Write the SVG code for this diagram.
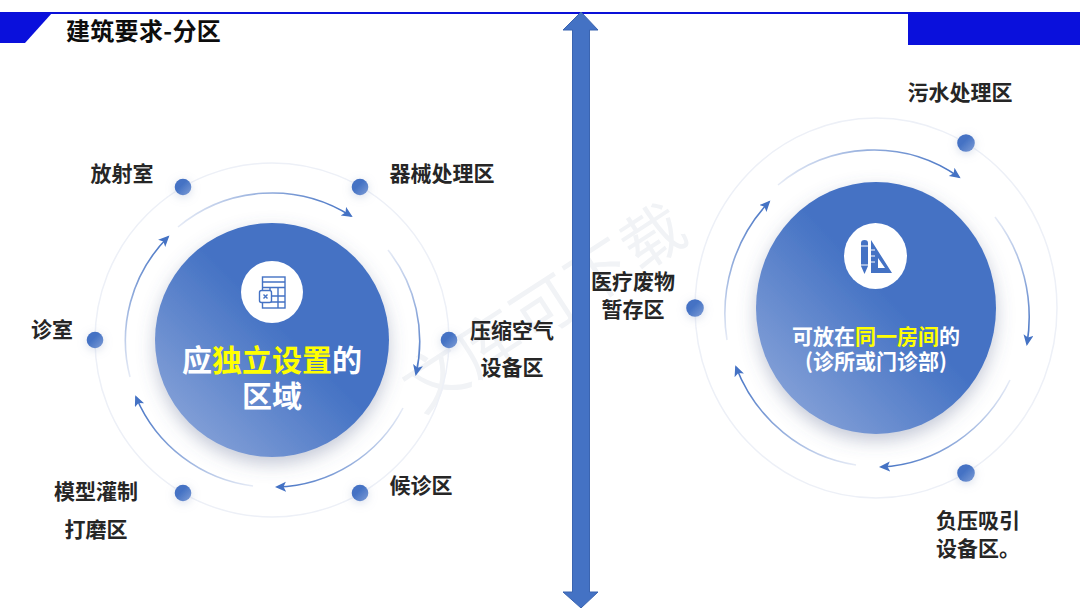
<svg xmlns="http://www.w3.org/2000/svg" width="1080" height="608" viewBox="0 0 1080 608">
<style>
text{font-family:"Noto Sans CJK SC","Liberation Sans",sans-serif;font-weight:700}
.lb{font-size:21px;fill:#262626;text-anchor:middle}
.ring{fill:none;stroke:#edf0f7;stroke-width:1.5}
.arc{fill:none;stroke-width:1.6}
.dot{filter:url(#ds)}
.ic{fill:none;stroke:#4472c4;stroke-width:1.4}
.w{fill:#fff;text-anchor:middle}
.y{fill:#ffff00}
.wm{font-size:62px;fill:#f1f3f6;text-anchor:middle;font-weight:400}
</style>
<defs>
<linearGradient id="disc" x1="0.15" y1="0.95" x2="0.6" y2="0.5"><stop offset="0" stop-color="#86a2d8"/><stop offset="1" stop-color="#4472c4"/></linearGradient>
<linearGradient id="dotg" x1="0" y1="0" x2="1" y2="1"><stop offset="0.4" stop-color="#4472c4"/><stop offset="1" stop-color="#7f9dd6"/></linearGradient>
<filter id="ds" x="-100%" y="-100%" width="300%" height="300%"><feDropShadow dx="0" dy="2" stdDeviation="5" flood-color="#8a9cc4" flood-opacity="0.35"/></filter>
<filter id="dsb" x="-30%" y="-30%" width="160%" height="160%"><feDropShadow dx="0" dy="7" stdDeviation="9" flood-color="#55648c" flood-opacity="0.35"/></filter>
<marker id="ah" markerUnits="userSpaceOnUse" markerWidth="12" markerHeight="12" refX="9" refY="5" orient="auto"><path d="M0 0L11 5L0 10L2.5 5Z" fill="#4472c4"/></marker>
<linearGradient id="a1" gradientUnits="userSpaceOnUse" x1="178" y1="227" x2="351" y2="216"><stop offset="0" stop-color="#e6ebf6"/><stop offset="1" stop-color="#4472c4"/></linearGradient>
<linearGradient id="a2" gradientUnits="userSpaceOnUse" x1="388" y1="250" x2="416" y2="374"><stop offset="0" stop-color="#e6ebf6"/><stop offset="1" stop-color="#4472c4"/></linearGradient>
<linearGradient id="a3" gradientUnits="userSpaceOnUse" x1="403" y1="408" x2="277" y2="487"><stop offset="0" stop-color="#e6ebf6"/><stop offset="1" stop-color="#4472c4"/></linearGradient>
<linearGradient id="a4" gradientUnits="userSpaceOnUse" x1="253" y1="486" x2="136" y2="397"><stop offset="0" stop-color="#e6ebf6"/><stop offset="1" stop-color="#4472c4"/></linearGradient>
<linearGradient id="a5" gradientUnits="userSpaceOnUse" x1="130" y1="377" x2="168" y2="237"><stop offset="0" stop-color="#e6ebf6"/><stop offset="1" stop-color="#4472c4"/></linearGradient>
<linearGradient id="b1" gradientUnits="userSpaceOnUse" x1="778" y1="185" x2="959" y2="177"><stop offset="0" stop-color="#e6ebf6"/><stop offset="1" stop-color="#4472c4"/></linearGradient>
<linearGradient id="b2" gradientUnits="userSpaceOnUse" x1="995" y1="217" x2="1027" y2="344"><stop offset="0" stop-color="#e6ebf6"/><stop offset="1" stop-color="#4472c4"/></linearGradient>
<linearGradient id="b3" gradientUnits="userSpaceOnUse" x1="1010" y1="380" x2="881" y2="467"><stop offset="0" stop-color="#e6ebf6"/><stop offset="1" stop-color="#4472c4"/></linearGradient>
<linearGradient id="b4" gradientUnits="userSpaceOnUse" x1="856" y1="465" x2="736" y2="367"><stop offset="0" stop-color="#e6ebf6"/><stop offset="1" stop-color="#4472c4"/></linearGradient>
<linearGradient id="b5" gradientUnits="userSpaceOnUse" x1="727" y1="340" x2="769" y2="202"><stop offset="0" stop-color="#e6ebf6"/><stop offset="1" stop-color="#4472c4"/></linearGradient>
</defs>
<rect width="1080" height="608" fill="#fff"/>
<g id="watermark" transform="rotate(-33 545 310)">
<text class="wm" x="416" y="330">文</text>
<text class="wm" x="480" y="330">库</text>
<text class="wm" x="545" y="330">可</text>
<text class="wm" x="610" y="330">下</text>
<text class="wm" x="675" y="330">载</text>
</g>
<g id="header">
<rect x="0" y="12" width="1080" height="2" fill="#0a10d8"/>
<path d="M0 13H52L25 43H0Z" fill="#0a10dc"/>
<rect x="908" y="12" width="172" height="33" fill="#0a10dc"/>
<text x="66" y="40" font-size="24" letter-spacing="0.300" fill="#0d0d0d">建筑要求-分区</text>
</g>
<g id="divider"><path d="M581 12L598 30H589.500V592H598L581 608L563 592H572.500V30H563Z" fill="#4472c4" stroke="#3a64b0" stroke-width="1"/></g>
<g id="rings">
<circle class="ring" cx="272" cy="340" r="177"/>
<ellipse class="ring" cx="876" cy="308" rx="181" ry="190"/>
</g>
<g id="connectors">
<path class="arc" stroke="url(#a1)" marker-end="url(#ah)" d="M178 227A147 147 0 0 1 351 216"/>
<path class="arc" stroke="url(#a2)" marker-end="url(#ah)" d="M388 250A147 147 0 0 1 416 374"/>
<path class="arc" stroke="url(#a3)" marker-end="url(#ah)" d="M403 408A147 147 0 0 1 277 487"/>
<path class="arc" stroke="url(#a4)" marker-end="url(#ah)" d="M253 486A147 147 0 0 1 136 397"/>
<path class="arc" stroke="url(#a5)" marker-end="url(#ah)" d="M130 377A147 147 0 0 1 168 237"/>
<path class="arc" stroke="url(#b1)" marker-end="url(#ah)" d="M778 185A153 159 0 0 1 959 177"/>
<path class="arc" stroke="url(#b2)" marker-end="url(#ah)" d="M995 217A153 159 0 0 1 1027 344"/>
<path class="arc" stroke="url(#b3)" marker-end="url(#ah)" d="M1010 380A153 159 0 0 1 881 467"/>
<path class="arc" stroke="url(#b4)" marker-end="url(#ah)" d="M856 465A153 159 0 0 1 736 367"/>
<path class="arc" stroke="url(#b5)" marker-end="url(#ah)" d="M727 340A153 159 0 0 1 769 202"/>
</g>
<g id="hub-left">
<circle cx="272" cy="340" r="117" fill="url(#disc)" filter="url(#dsb)"/>
<circle cx="272" cy="292" r="31" fill="#fff"/>
<g class="ic">
<rect x="262.500" y="277" width="22.500" height="31"/>
<path d="M262.500 282H285M262.500 287.500H285M270 287.500V290M278 287.500V308M271 296H285M271 302H285"/>
<rect x="259.500" y="290.500" width="12" height="12" rx="2" fill="#fff"/>
<path d="M263.500 294.500L267.500 298.500M267.500 294.500L263.500 298.500"/>
</g>
<text class="w" font-size="30"><tspan x="272" y="371">应<tspan class="y">独立设置</tspan>的</tspan><tspan x="272" y="407">区域</tspan></text>
</g>
<g id="hub-right">
<ellipse cx="876" cy="308" rx="120" ry="126" fill="url(#disc)" filter="url(#dsb)"/>
<ellipse cx="875.500" cy="256" rx="31.500" ry="33" fill="#fff"/>
<path d="M861 243Q861 240 864.500 240Q868 240 868 243V266L864.500 274L861 266Z" fill="#4472c4"/>
<path d="M871 240L892 273H871ZM878 258V268H885Z" fill="#4472c4" fill-rule="evenodd"/>
<path d="M861 246H868M861 265H868M871 250H875M871 256H875M871 262H875" stroke="#fff" stroke-width="1"/>
<text class="w" font-size="21"><tspan x="876" y="343.500">可放在<tspan class="y">同一房间</tspan>的</tspan><tspan x="876" y="368.500">(诊所或门诊部)</tspan></text>
</g>
<g id="n-fangshe"><circle class="dot" cx="183" cy="187" r="8.300" fill="url(#dotg)"/><text class="lb" x="122" y="180.500">放射室</text></g>
<g id="n-qixie"><circle class="dot" cx="360" cy="187" r="8.300" fill="url(#dotg)"/><text class="lb" x="442" y="180.500">器械处理区</text></g>
<g id="n-yasuo"><circle class="dot" cx="449" cy="340" r="8.300" fill="url(#dotg)"/><text class="lb" x="512" y="337.500">压缩空气</text><text class="lb" x="512" y="374.500">设备区</text></g>
<g id="n-houzhen"><circle class="dot" cx="360" cy="493" r="8.300" fill="url(#dotg)"/><text class="lb" x="421" y="492.500">候诊区</text></g>
<g id="n-moxing"><circle class="dot" cx="183" cy="493" r="8.300" fill="url(#dotg)"/><text class="lb" x="96" y="498.500">模型灌制</text><text class="lb" x="96" y="536.500">打磨区</text></g>
<g id="n-zhenshi"><circle class="dot" cx="95" cy="340" r="8.300" fill="url(#dotg)"/><text class="lb" x="52" y="336.500">诊室</text></g>
<g id="n-wushui"><circle class="dot" cx="966" cy="143" r="8.800" fill="url(#dotg)"/><text class="lb" x="960" y="99.500">污水处理区</text></g>
<g id="n-fuya"><circle class="dot" cx="966" cy="473" r="8.800" fill="url(#dotg)"/><text class="lb" x="978" y="527.500">负压吸引</text><text class="lb" x="978" y="555.500">设备区。</text></g>
<g id="n-yiliao"><circle class="dot" cx="695" cy="308" r="8.800" fill="url(#dotg)"/><text class="lb" x="633" y="288.500">医疗废物</text><text class="lb" x="633" y="316.500">暂存区</text></g>
</svg>
